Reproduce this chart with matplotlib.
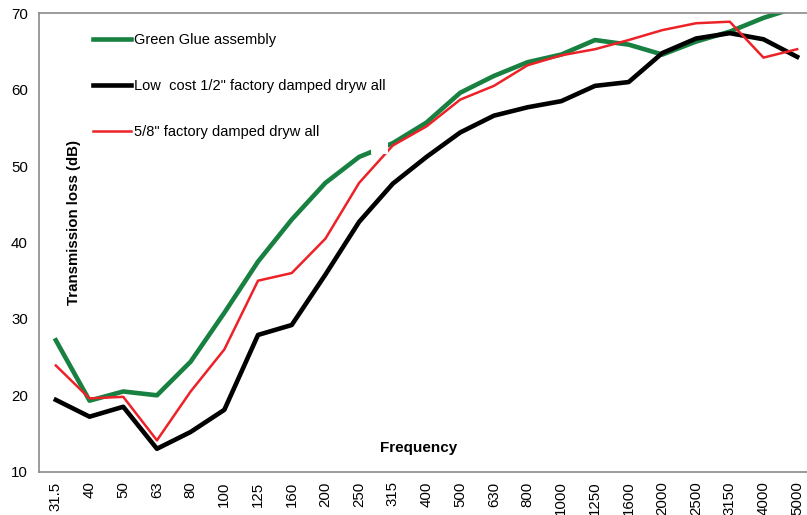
import matplotlib.pyplot as plt
import numpy as np
from matplotlib.patches import Rectangle

plt.rcParams['font.family'] = ['Liberation Sans', 'DejaVu Sans']

freqs = ['31.5', '40', '50', '63', '80', '100', '125', '160', '200', '250', '315',
         '400', '500', '630', '800', '1000', '1250', '1600', '2000', '2500', '3150',
         '4000', '5000']

green_glue = [27.2, 19.3, 20.5, 20.0, 24.4, 30.8, 37.5, 43.0, 47.8, 51.2, 53.0,
              55.7, 59.6, 61.8, 63.6, 64.6, 66.5, 65.9, 64.6, 66.3, 67.6,
              69.4, 70.8]
low_cost = [19.4, 17.2, 18.5, 13.0, 15.2, 18.1, 27.9, 29.2, 35.8, 42.7, 47.7,
            51.2, 54.4, 56.6, 57.7, 58.5, 60.5, 61.0, 64.8, 66.7, 67.4,
            66.6, 64.3]
five_eighths = [23.9, 19.6, 19.8, 14.1, 20.5, 26.0, 35.0, 36.0, 40.5, 47.8, 52.7,
                55.2, 58.7, 60.5, 63.2, 64.5, 65.3, 66.5, 67.8, 68.7, 68.9,
                64.2, 65.3]

x = np.arange(len(freqs))

fig = plt.figure(figsize=(8.07, 5.15), dpi=100)
ax = fig.add_axes([39 / 807, 43.3 / 515, 775 / 807, 458.4 / 515])

ax.plot(x, green_glue, color='#188040', lw=3.3, label='Green Glue assembly')
ax.plot(x, low_cost, color='black', lw=3.3, label='Low  cost 1/2" factory damped dryw all')
ax.plot(x, five_eighths, color='#ec2228', lw=1.8, label='5/8" factory damped dryw all')

# white break seen in the original around 250-315 Hz
ax.add_patch(Rectangle((9.35, 51.6), 0.5, 1.5, color='white', zorder=5, lw=0))

ax.set_xlim(-0.5, len(freqs) - 0.5)
ax.set_ylim(10, 70)
ax.set_yticks([10, 20, 30, 40, 50, 60, 70])
ax.set_xticks(x)
ax.set_xticklabels(freqs, rotation=90)
ax.tick_params(axis='both', length=0, labelsize=10.8, colors='black')
ax.tick_params(axis='y', pad=8.0)
ax.tick_params(axis='x', pad=7.0)

for s in ax.spines.values():
    s.set_color('#8a8a8a')
    s.set_linewidth(1.2)

ax.text(0.045, 0.544, 'Transmission loss (dB)', rotation=90, ha='center', va='center',
        fontsize=10.8, fontweight='bold', transform=ax.transAxes)
ax.text(0.490, 0.052, 'Frequency', ha='center', va='center',
        fontsize=11, fontweight='bold', transform=ax.transAxes)

ax.legend(loc='upper left', bbox_to_anchor=(93 / 807, 1 - 33 / 515),
          bbox_transform=fig.transFigure, frameon=False, fontsize=10.5,
          handlelength=2.6, handletextpad=0.2, labelspacing=2.2,
          borderpad=0, borderaxespad=0)

fig.savefig('out.png', dpi=100)
